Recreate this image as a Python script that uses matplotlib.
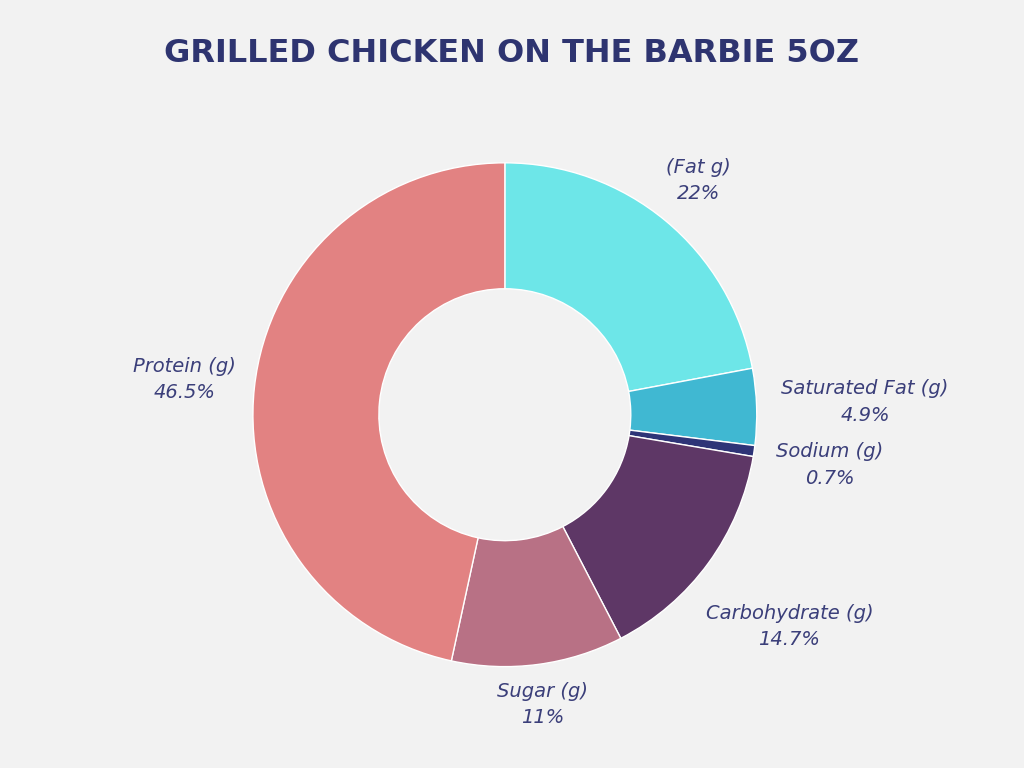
import matplotlib.pyplot as plt

names = ["(Fat g)", "Saturated Fat (g)", "Sodium (g)", "Carbohydrate (g)", "Sugar (g)", "Protein (g)"]
values = [22, 4.9, 0.7, 14.7, 11, 46.5]
pct_labels = ["22%", "4.9%", "0.7%", "14.7%", "11%", "46.5%"]
colors = ["#6de6e8", "#40b8d2", "#2e3477", "#5e3766", "#b87185", "#e28282"]
# label centres in axes data units (pie radius = 1)
label_pos = [(0.77, 0.93), (1.43, 0.05), (1.29, -0.20), (1.13, -0.84), (0.15, -1.15), (-1.27, 0.14)]

fig = plt.figure(figsize=(10.24, 7.68), dpi=100, facecolor="#f2f2f2")
ax = fig.add_axes([0.247, 0.132, 0.492, 0.656])
ax.set_facecolor("#f2f2f2")

wedges, _ = ax.pie(values, colors=colors, startangle=90, counterclock=False,
                   wedgeprops=dict(width=0.5, edgecolor="white", linewidth=1))
for n, p, (x, y) in zip(names, pct_labels, label_pos):
    ax.text(x, y, f"{n}\n{p}", ha="center", va="center", color="#3b3f7a",
            fontsize=14, style="italic", linespacing=1.5, clip_on=False)
ax.set_xlim(-1, 1)
ax.set_ylim(-1, 1)
ax.set_aspect("equal")
ax.axis("off")

fig.text(0.5, 0.93, "GRILLED CHICKEN ON THE BARBIE 5OZ", ha="center", va="center",
         fontsize=23, fontweight="bold", color="#2e3470")

fig.savefig("out.png", dpi=100, facecolor=fig.get_facecolor())
